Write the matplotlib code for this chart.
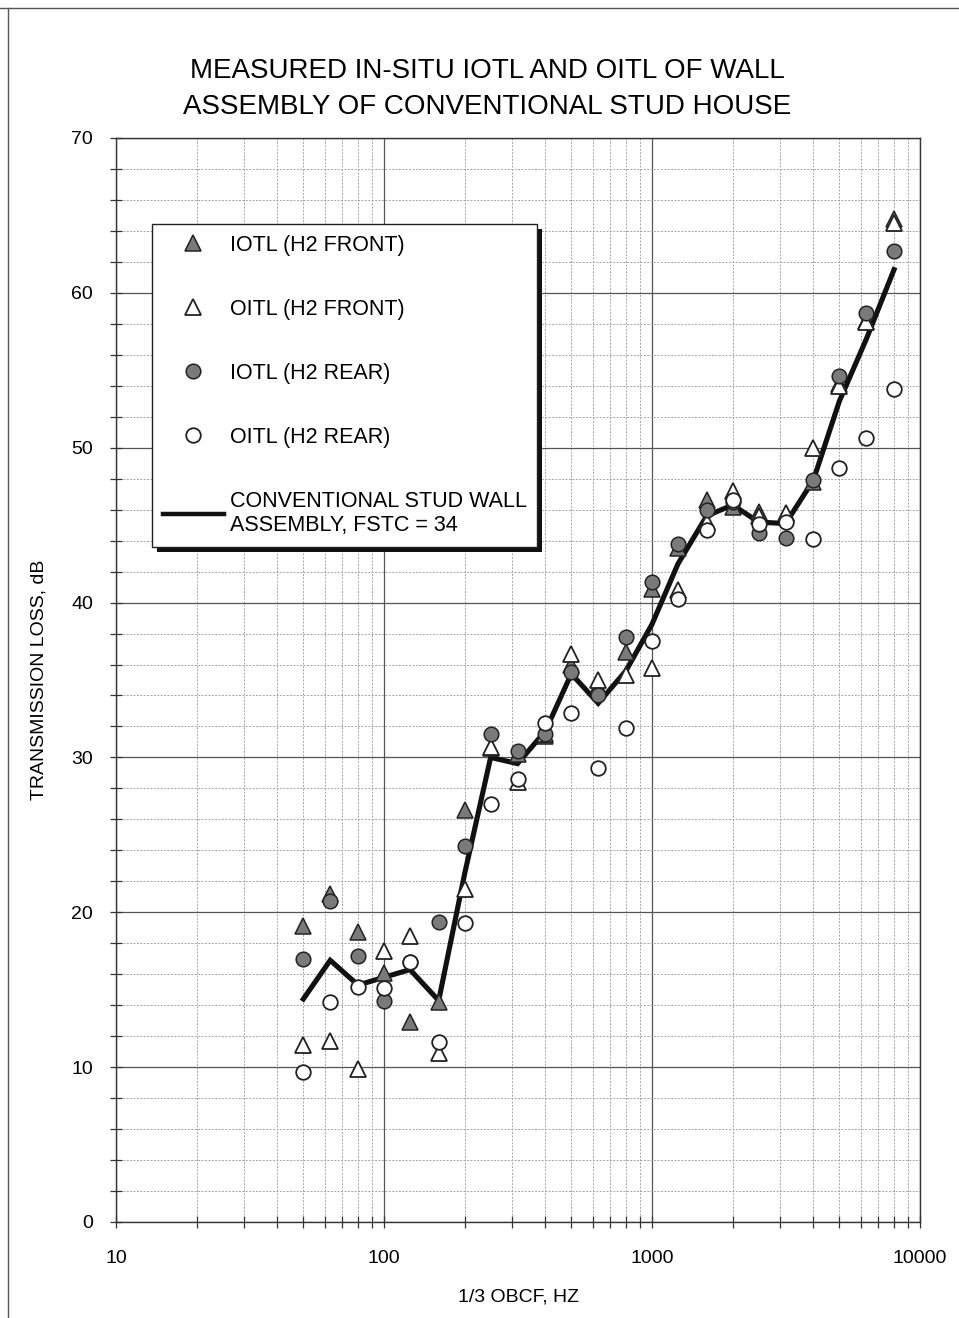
import numpy as np
import matplotlib
matplotlib.use("Agg")
import matplotlib.pyplot as plt
from matplotlib.ticker import LogLocator, MultipleLocator, FixedLocator, NullFormatter
from matplotlib.patches import Rectangle
from matplotlib.lines import Line2D

plt.rcParams['font.family'] = ['Liberation Sans', 'DejaVu Sans']

freqs = [50, 63, 80, 100, 125, 160, 200, 250, 315, 400, 500, 630, 800,
         1000, 1250, 1600, 2000, 2500, 3150, 4000, 5000, 6300, 8000]

iotl_front = [19.1, 21.2, 18.7, 16.1, 12.9, 14.2, 26.6, 30.6, 30.2, 31.4, 36.0, 34.6, 36.8,
              40.9, 43.5, 46.6, 46.2, 45.85, 45.75, 47.8, 54.1, 58.2, 64.8]
oitl_front = [11.4, 11.7, 9.9, 17.5, 18.5, 10.9, 21.5, 30.7, 28.4, 31.5, 36.7, 35.0, 35.3,
              35.8, 40.8, 45.2, 47.2, 45.6, 45.8, 50.0, 54.0, 58.1, 64.5]
iotl_rear = [17.0, 20.7, 17.2, 14.3, 16.8, 19.4, 24.3, 31.5, 30.4, 31.5, 35.5, 34.0, 37.8,
             41.3, 43.8, 46.0, 46.5, 44.5, 44.2, 47.9, 54.6, 58.7, 62.7]
oitl_rear = [9.7, 14.2, 15.2, 15.1, 16.8, 11.6, 19.3, 27.0, 28.6, 32.2, 32.9, 29.3, 31.9,
             37.5, 40.2, 44.7, 46.6, 45.1, 45.2, 44.1, 48.7, 50.6, 53.8]
stud_wall = [14.4, 16.9, 15.3, 15.8, 16.3, 14.3, 22.5, 30.0, 29.6, 31.7, 35.4, 33.5, 35.6,
             38.6, 42.5, 45.6, 46.3, 45.2, 45.1, 47.9, 53.0, 57.0, 61.5]

title = "MEASURED IN-SITU IOTL AND OITL OF WALL\nASSEMBLY OF CONVENTIONAL STUD HOUSE"
labels = ["IOTL (H2 FRONT)", "OITL (H2 FRONT)", "IOTL (H2 REAR)", "OITL (H2 REAR)",
          "CONVENTIONAL STUD WALL\nASSEMBLY, FSTC = 34"]
xticks = [10, 100, 1000, 10000]
xticklabels = ["10", "100", "1000", "10000"]
yticks = [0, 10, 20, 30, 40, 50, 60, 70]

W, H = 959, 1318
fig = plt.figure(figsize=(W / 100, H / 100), dpi=100)
L, R, T, B = 116, 920, 138, 1222
ax = fig.add_axes([L / W, 1 - B / H, (R - L) / W, (B - T) / H])

gray = '#7a7a7a'
ax.plot(freqs, stud_wall, color='#111111', lw=3.7, zorder=3, solid_joinstyle='miter')
ax.plot(freqs, iotl_front, ls='none', marker='^', ms=11.5, mfc=gray, mec='#222222', mew=1.1, zorder=4)
ax.plot(freqs, oitl_front, ls='none', marker='^', ms=11.5, mfc='white', mec='#222222', mew=1.3, zorder=5)
ax.plot(freqs, iotl_rear, ls='none', marker='o', ms=10.5, mfc=gray, mec='#222222', mew=1.1, zorder=6)
ax.plot(freqs, oitl_rear, ls='none', marker='o', ms=10.5, mfc='white', mec='#222222', mew=1.3, zorder=7)

ax.set_xscale('log')
ax.set_xlim(10, 10000)
ax.set_ylim(0, 70)
ax.xaxis.set_major_locator(FixedLocator(xticks))
ax.set_xticklabels(xticklabels)
ax.xaxis.set_minor_locator(LogLocator(base=10, subs=np.arange(2, 10)))
ax.xaxis.set_minor_formatter(NullFormatter())
ax.yaxis.set_major_locator(FixedLocator(yticks))
ax.yaxis.set_minor_locator(MultipleLocator(2))

ax.grid(which='major', color='#555555', lw=0.9)
ax.grid(which='minor', color='#a5a5a5', lw=0.7, ls=(0, (2, 1.5)))
ax.set_axisbelow(True)

ax.tick_params(which='both', direction='inout', color='#333333', width=0.9)
ax.tick_params(which='major', length=9)
ax.tick_params(which='minor', length=8)
ax.tick_params(axis='y', which='major', labelsize=14, pad=12)
ax.tick_params(axis='x', which='major', labelsize=14, pad=16)
for s in ax.spines.values():
    s.set_color('#333333')
    s.set_linewidth(1.0)

ax.set_ylabel("TRANSMISSION LOSS, dB", fontsize=14, labelpad=17)
ax.set_xlabel("1/3 OBCF, HZ", fontsize=14, labelpad=15)

fig.text(487 / W, 1 - 89 / H, title, ha='center', va='center', fontsize=20,
         linespacing=1.5)

handles = [
    Line2D([], [], ls='none', marker='^', ms=11.5, mfc=gray, mec='#222222', mew=1.1),
    Line2D([], [], ls='none', marker='^', ms=11.5, mfc='white', mec='#222222', mew=1.3),
    Line2D([], [], ls='none', marker='o', ms=10.5, mfc=gray, mec='#222222', mew=1.1),
    Line2D([], [], ls='none', marker='o', ms=10.5, mfc='white', mec='#222222', mew=1.3),
    Line2D([], [], color='#111111', lw=3.2),
]
leg = ax.legend(handles, labels, loc='upper left',
                bbox_to_anchor=((152 - L) / (R - L), (B - 224) / (B - T)),
                prop={'size': 15.5}, frameon=True, fancybox=False, framealpha=1,
                edgecolor='#222222', labelspacing=2.0, handlelength=2.85,
                handletextpad=0.25, borderpad=0.5, borderaxespad=0, numpoints=1)
leg.get_frame().set_linewidth(1.0)
leg.set_zorder(10)

fig.canvas.draw()
bb = leg.get_window_extent()
sh = Rectangle(((bb.x0 + 5) / W, (bb.y0 - 5) / H), bb.width / W, bb.height / H,
               transform=fig.transFigure, facecolor='#111111', edgecolor='none', zorder=9)
ax.add_artist(sh)
sh.set_clip_on(False)

# page border from scan
fig.add_artist(Line2D([0, 1], [1 - 8 / H, 1 - 8 / H], transform=fig.transFigure, color='#555555', lw=1))
fig.add_artist(Line2D([8 / W, 8 / W], [0, 1 - 8 / H], transform=fig.transFigure, color='#555555', lw=1))

fig.savefig("out.png", dpi=100)
